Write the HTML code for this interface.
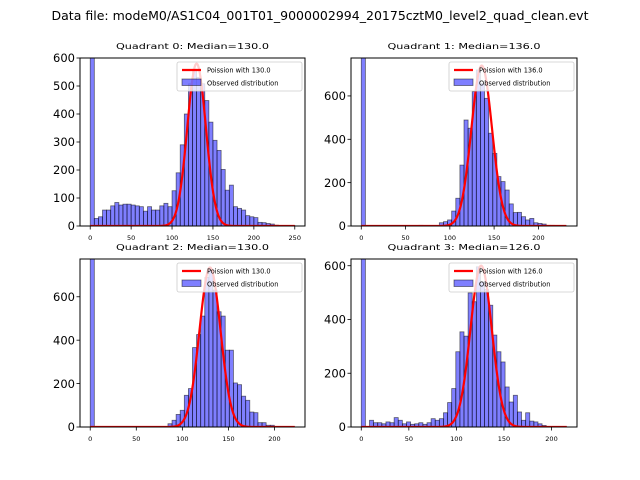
<!DOCTYPE html>
<html><head><meta charset="utf-8"><style>
body{margin:0;background:#fff}
svg{display:block;font-family:"DejaVu Sans","Liberation Sans",sans-serif}
</style></head><body>
<svg id="fig" width="640" height="480" xmlns="http://www.w3.org/2000/svg">
<rect width="640" height="480" fill="#fff"/>
<text x="320" y="20" font-size="12" text-anchor="middle" textLength="537" lengthAdjust="spacingAndGlyphs">Data file: modeM0/AS1C04_001T01_9000002994_20175cztM0_level2_quad_clean.evt</text>
</svg>
<script>
// ---- data ----
const q0Counts=[1500,27,33,57,57,72,84,75,78,78,75,72,69,53,69,57,57,72,81,69,126,190,290,400,508,560,531,508,448,371,306,270,202,128,146,69,63,57,37,33,30,13,12,9,7,3,2,2,2,2];
const q1Counts=[1500,0,0,0,0,0,0,0,0,0,0,0,0,0,3,0,0,0,0,15,20,28,69,128,281,489,451,620,720,658,589,428,335,228,205,166,102,62,63,43,28,35,15,12,9,3,3,2,2,1];
const q2Counts=[1500,0,0,0,0,0,0,0,0,0,0,0,0,0,0,0,2,0,0,15,31,58,77,146,177,366,426,511,689,723,631,531,511,354,354,203,195,142,123,69,66,20,20,8,8,2,2,1,1,1];
const q3Counts=[1500,0,25,16,16,12,19,16,35,25,12,19,10,12,16,10,16,31,25,31,53,91,143,280,354,338,499,466,596,540,512,453,342,280,242,149,93,118,56,25,53,22,19,12,6,2,2,1,1,1];
const medians=[130,136,130,126];
const poissonPeaks=[580,740,735,600];
const binWidths=[5,4.64,4.44,4.32];
const yTicks0=[0,100,200,300,400,500,600];
const yTicksN=[0,200,400,600];
const xTicks0=[0,50,100,150,200,250];
const xTicksN=[0,50,100,150,200];
const allCounts=[q0Counts,q1Counts,q2Counts,q3Counts];
const panels=[
 {L:80,T:58,R:305,B:226,xmin:-12.5,xmax:262.5,ymax:600,yt:yTicks0,xt:xTicks0},
 {L:351,T:58,R:577,B:226,xmin:-11.6,xmax:243.6,ymax:775,yt:yTicksN,xt:xTicksN},
 {L:80,T:259,R:305,B:427,xmin:-11.1,xmax:233.1,ymax:774,yt:yTicksN,xt:xTicksN},
 {L:351,T:259,R:577,B:427,xmin:-10.8,xmax:226.8,ymax:625,yt:yTicksN,xt:xTicksN}
];
const NS="http://www.w3.org/2000/svg";
const fig=document.getElementById('fig');
function mk(tag,attrs,parent,txt){const e=document.createElementNS(NS,tag);for(const k in attrs)e.setAttribute(k,attrs[k]);if(txt!==undefined)e.textContent=txt;parent.appendChild(e);return e;}
panels.forEach((p,i)=>{
 const counts=allCounts[i],bw=binWidths[i],mu=medians[i];
 const sx=v=>p.L+(v-p.xmin)/(p.xmax-p.xmin)*(p.R-p.L);
 const sy=v=>p.B-Math.min(v,p.ymax*1.02)/p.ymax*(p.B-p.T);
 const g=mk('g',{},fig);
 
 
 mk('clipPath',{id:'c'+i},g);
 mk('rect',{x:p.L,y:p.T,width:p.R-p.L,height:p.B-p.T},g.lastChild);
 const bars=mk('g',{'clip-path':'url(#c'+i+')'},g);
 counts.forEach((c,k)=>{
  if(c<=0)return;
  const x0=sx(k*bw),x1=sx((k+1)*bw);
  const r=mk('rect',{x:x0,y:sy(c),width:x1-x0,height:p.B-sy(c),fill:'rgba(0,0,255,0.5)',stroke:'rgba(0,0,0,0.55)','stroke-width':0.8},bars);
  
  
 });
 let d='';const xEnd=counts.length*bw;
 for(let x=0;x<=xEnd;x+=0.5){const y=poissonPeaks[i]*Math.exp(-Math.pow(x-mu,2)/(2*mu));d+=(d?'L':'M')+sx(x).toFixed(2)+','+sy(y).toFixed(2);}
 const pl=mk('path',{d:d,fill:'none',stroke:'red','stroke-width':2.2},bars);
 
 
 mk('rect',{x:p.L,y:p.T,width:p.R-p.L,height:p.B-p.T,fill:'none',stroke:'#000','stroke-width':1},g);
 p.yt.forEach(v=>{const y=sy(v);mk('line',{x1:p.L-3.5,x2:p.L,y1:y,y2:y,stroke:'#000','stroke-width':0.8},g);
  const t=mk('text',{x:p.L-5,y:y+4.2,'font-size':11.5,'text-anchor':'end'},g,String(v));
  });
 p.xt.forEach(v=>{const x=sx(v);mk('line',{x1:x,x2:x,y1:p.B,y2:p.B+3.5,stroke:'#000','stroke-width':0.8},g);
  const t=mk('text',{x:x,y:p.B+14,'font-size':6.5,'text-anchor':'middle'},g,String(v));
  });
 const tt=mk('text',{x:(p.L+p.R)/2,y:p.T-9,'font-size':8.2,'text-anchor':'middle',textLength:153,lengthAdjust:'spacingAndGlyphs'},g,'Quadrant '+i+': Median='+mu.toFixed(1));
 
 const lg=mk('g',{},g);
 
 const lx=p.R-128,ly=p.T+4;
 mk('rect',{x:lx,y:ly,width:125,height:29,fill:'rgba(255,255,255,0.8)',stroke:'#ccc','stroke-width':0.8,rx:2},lg);
 mk('line',{x1:lx+5,x2:lx+24,y1:ly+8,y2:ly+8,stroke:'red','stroke-width':2.2},lg);
 mk('text',{x:lx+30,y:ly+10.5,'font-size':6.6},lg,'Poission with '+mu.toFixed(1));
 mk('rect',{x:lx+5,y:ly+17,width:19,height:6.5,fill:'rgba(0,0,255,0.5)',stroke:'rgba(0,0,0,0.55)','stroke-width':0.8},lg);
 mk('text',{x:lx+30,y:ly+23.5,'font-size':6.6},lg,'Observed distribution');
});
</script>
</body></html>
